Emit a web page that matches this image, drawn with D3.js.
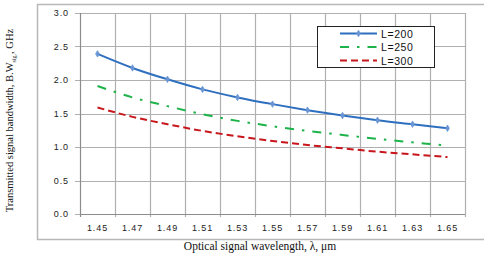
<!DOCTYPE html>
<html lang="en">
<head>
    <meta charset="UTF-8">
    <title>Bandwidth vs wavelength</title>
    <script src="https://d3js.org/d3.v7.min.js"></script>
    <style>
        body { margin: 0; background: #fff; }
        svg { display: block; }
        .tick-label { font-family: "Liberation Sans", Arial, sans-serif; font-size: 9px; letter-spacing: 0.9px; fill: #222; }
        .axis-title { font-family: "Liberation Serif", "Times New Roman", serif; font-size: 11.5px; fill: #111; }
        .legend-text { font-family: "Liberation Sans", Arial, sans-serif; font-size: 10.5px; letter-spacing: 0.6px; fill: #111; }
    </style>
</head>
<body>
<div id="chart"></div>
<script>
    const wavelengths = ["1.45", "1.47", "1.49", "1.51", "1.53", "1.55", "1.57", "1.59", "1.61", "1.63", "1.65"];
    const yTicks = [0, 0.5, 1.0, 1.5, 2.0, 2.5, 3.0];

    const l200 = [2.39, 2.18, 2.01, 1.86, 1.74, 1.64, 1.55, 1.47, 1.40, 1.34, 1.28];
    const l250 = [1.91, 1.74, 1.61, 1.49, 1.39, 1.31, 1.24, 1.18, 1.12, 1.07, 1.02];
    const l300 = [1.59, 1.45, 1.34, 1.24, 1.16, 1.09, 1.03, 0.98, 0.93, 0.89, 0.85];

    const seriesNames = ["L=200", "L=250", "L=300"];

    const series = [
        { name: seriesNames[0], values: l200, color: "#2f6fbf", dash: null, marker: true },
        { name: seriesNames[1], values: l250, color: "#1db34a", dash: "9,8,2.5,8", marker: false },
        { name: seriesNames[2], values: l300, color: "#c8161d", dash: "7,4", marker: false }
    ];

    const width = 484;
    const height = 259;
    const plot = { left: 80, right: 465, top: 13, bottom: 214 };

    const svg = d3.select("#chart").append("svg")
        .attr("width", width)
        .attr("height", height);

    // outer frame (right side runs off the picture)
    svg.append("path")
        .attr("d", `M${width + 5},4.5 H37.5 V239.5 H${width + 5}`)
        .attr("fill", "none")
        .attr("stroke", "#b8b8b8")
        .attr("stroke-width", 1.5);

    const x = d3.scaleBand()
        .domain(wavelengths)
        .range([plot.left, plot.right]);

    const y = d3.scaleLinear()
        .domain([0, 3])
        .range([plot.bottom, plot.top]);

    // horizontal grid
    svg.append("g")
        .selectAll("line")
        .data(yTicks)
        .join("line")
        .attr("x1", plot.left - 5)
        .attr("x2", plot.right)
        .attr("y1", d => Math.round(y(d)) + 0.5)
        .attr("y2", d => Math.round(y(d)) + 0.5)
        .attr("stroke", "#b0b0b0")
        .attr("stroke-width", 1.2);

    // vertical grid at category boundaries
    const bounds = wavelengths.map(d => x(d) + x.bandwidth());
    svg.append("g")
        .selectAll("line")
        .data(bounds)
        .join("line")
        .attr("x1", d => Math.round(d) + 0.5)
        .attr("x2", d => Math.round(d) + 0.5)
        .attr("y1", plot.top)
        .attr("y2", plot.bottom + 3)
        .attr("stroke", "#b0b0b0")
        .attr("stroke-width", 1.2);

    // axes lines
    svg.append("line")
        .attr("x1", plot.left + 0.5).attr("x2", plot.left + 0.5)
        .attr("y1", plot.top).attr("y2", plot.bottom + 3)
        .attr("stroke", "#8c8c8c").attr("stroke-width", 1.2);
    svg.append("line")
        .attr("x1", plot.left).attr("x2", plot.right)
        .attr("y1", Math.round(y(0)) + 0.5).attr("y2", Math.round(y(0)) + 0.5)
        .attr("stroke", "#8c8c8c").attr("stroke-width", 1.2);

    // tick labels
    svg.append("g")
        .selectAll("text")
        .data(yTicks)
        .join("text")
        .attr("class", "tick-label")
        .attr("x", plot.left - 11)
        .attr("y", d => y(d) + 3)
        .attr("text-anchor", "end")
        .text(d => d.toFixed(1));

    svg.append("g")
        .selectAll("text")
        .data(wavelengths)
        .join("text")
        .attr("class", "tick-label")
        .attr("x", d => x(d) + x.bandwidth() / 2)
        .attr("y", plot.bottom + 17)
        .attr("text-anchor", "middle")
        .text(d => d);

    // axis titles
    svg.append("text")
        .attr("class", "axis-title")
        .attr("x", 260)
        .attr("y", 250)
        .attr("text-anchor", "middle")
        .text("Optical signal wavelength, λ, μm");

    const yTitle = svg.append("text")
        .attr("class", "axis-title")
        .attr("transform", `translate(13, ${(plot.top + plot.bottom) / 2 + 7}) rotate(-90)`)
        .attr("text-anchor", "middle")
        .style("font-size", "10.5px");
    yTitle.append("tspan").text("Transmitted signal bandwidth, B.W");
    yTitle.append("tspan").attr("dy", 2.5).style("font-size", "6px").text("sig.");
    yTitle.append("tspan").attr("dy", -2.5).text(", GHz");

    // series lines
    const line = d3.line()
        .x((d, i) => x(wavelengths[i]) + x.bandwidth() / 2)
        .y(d => y(d))
        .curve(d3.curveMonotoneX);

    svg.append("g")
        .selectAll("path")
        .data(series)
        .join("path")
        .attr("d", d => line(d.values))
        .attr("fill", "none")
        .attr("stroke", d => d.color)
        .attr("stroke-width", 2)
        .attr("stroke-dasharray", d => d.dash);

    const diamond = d3.symbol().type(d3.symbolDiamond).size(12);

    series.filter(s => s.marker).forEach(s => {
        svg.append("g")
            .selectAll("path")
            .data(s.values)
            .join("path")
            .attr("d", diamond)
            .attr("transform", (d, i) => `translate(${x(wavelengths[i]) + x.bandwidth() / 2}, ${y(d)})`)
            .attr("fill", "#6a96d4")
            .attr("stroke", "#6a96d4")
            .attr("stroke-width", 0.8);
    });

    // legend
    const legend = svg.append("g").attr("transform", "translate(317, 26)");
    legend.append("rect")
        .attr("x", 0.5).attr("y", 0.5)
        .attr("width", 117).attr("height", 41)
        .attr("fill", "#fff")
        .attr("stroke", "#222")
        .attr("stroke-width", 1);

    const rows = legend.selectAll("g.row")
        .data(series)
        .join("g")
        .attr("class", "row")
        .attr("transform", (d, i) => `translate(0, ${7.5 + i * 13.5})`);

    rows.append("line")
        .attr("x1", 23).attr("x2", 60)
        .attr("y1", 0).attr("y2", 0)
        .attr("stroke", d => d.color)
        .attr("stroke-width", 2)
        .attr("stroke-dasharray", d => d.dash);

    rows.filter(d => d.marker)
        .append("path")
        .attr("d", diamond)
        .attr("transform", "translate(41.5, 0)")
        .attr("fill", "#6a96d4")
        .attr("stroke", "#6a96d4")
        .attr("stroke-width", 0.8);

    rows.append("text")
        .attr("class", "legend-text")
        .attr("x", 64)
        .attr("y", 4)
        .text(d => d.name);
</script>
</body>
</html>
